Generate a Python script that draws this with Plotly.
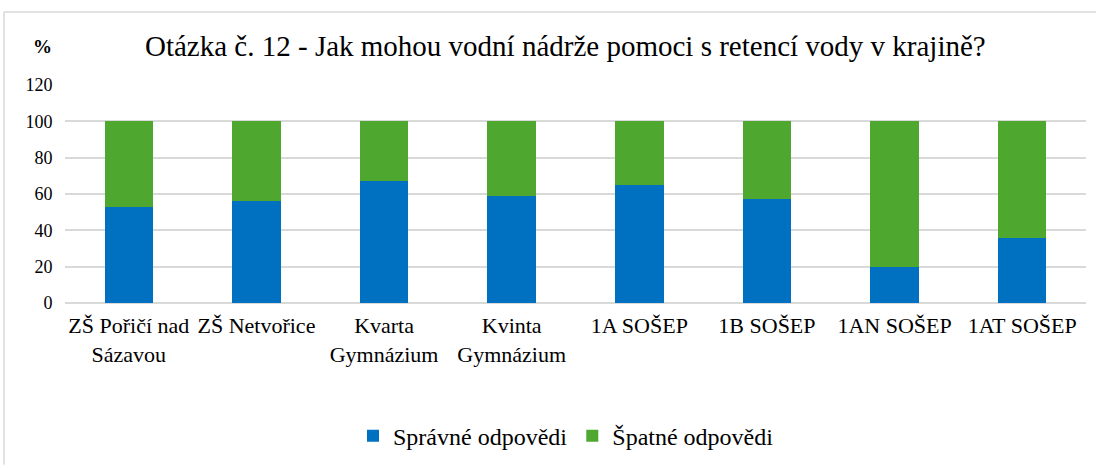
import plotly.graph_objects as go

categories = ["ZŠ Pořičí nad<br>Sázavou", "ZŠ Netvořice", "Kvarta<br>Gymnázium", "Kvinta<br>Gymnázium",
              "1A SOŠEP", "1B SOŠEP", "1AN SOŠEP", "1AT SOŠEP"]
spravne = [53, 56, 67, 59, 65, 57, 20, 36]
spatne = [47, 44, 33, 41, 35, 43, 80, 64]
yticks = [0, 20, 40, 60, 80, 100, 120]

FONT = "Times New Roman, Liberation Serif, Tinos, DejaVu Serif, serif"
W, H = 1096, 468
L, R, T, B = 65, 10, 85, 162
pw, ph = W - L - R, H - T - B

def px(x):
    return (x - L) / pw

def py(y):
    return (H - B - y) / ph

fig = go.Figure()
fig.add_trace(go.Bar(x=categories, y=spravne, name="Správné odpovědi", marker_color="#0070C0",
                     marker_line_width=0))
fig.add_trace(go.Bar(x=categories, y=spatne, name="Špatné odpovědi", marker_color="#4EA72E",
                     marker_line_width=0))

fig.update_layout(
    width=W, height=H, barmode="stack", bargap=0.62,
    margin=dict(l=L, r=R, t=T, b=B),
    paper_bgcolor="white", plot_bgcolor="white",
    font=dict(family=FONT, size=18, color="#000000"),
    showlegend=True,
    legend=dict(orientation="h", x=px(566), xanchor="center", y=py(441), yanchor="middle",
                font=dict(size=24, family=FONT, color="#000000"), traceorder="normal", itemwidth=30),
    xaxis=dict(showgrid=False, showline=False, ticks="", tickfont=dict(size=22, family=FONT, color="#000000"),
               tickangle=0, ticklabelstandoff=7),
    yaxis=dict(range=[0, 120], tickvals=yticks, showgrid=True, gridcolor="#D9D9D9", gridwidth=1.5,
               zeroline=True, zerolinecolor="#D9D9D9", zerolinewidth=1.5,
               ticks="outside", ticklen=8, tickcolor="rgba(0,0,0,0)",
               tickfont=dict(size=18, family=FONT, color="#000000"), showline=False),
)

fig.add_annotation(text="Otázka č. 12 - Jak mohou vodní nádrže pomoci s retencí vody v krajině?",
                   xref="paper", yref="paper", x=px(565), y=py(45), xanchor="center", yanchor="middle",
                   showarrow=False, font=dict(size=29, family=FONT, color="#000000"))
fig.add_annotation(text="<b>%</b>", xref="paper", yref="paper", x=px(42), y=py(46), xanchor="center",
                   yanchor="middle", showarrow=False, font=dict(size=19, family=FONT, color="#000000"))

# outer chart-area border (top and left edges visible in the reference)
fig.add_shape(type="line", xref="paper", yref="paper", x0=px(4), x1=px(1100), y0=py(11), y1=py(11),
              line=dict(color="#D9D9D9", width=1.5), layer="below")
fig.add_shape(type="line", xref="paper", yref="paper", x0=px(4), x1=px(4), y0=py(11), y1=py(470),
              line=dict(color="#D9D9D9", width=1.5), layer="below")

fig.write_html("out.html", config={"displayModeBar": False},
               post_script="document.body.style.margin='0';")
